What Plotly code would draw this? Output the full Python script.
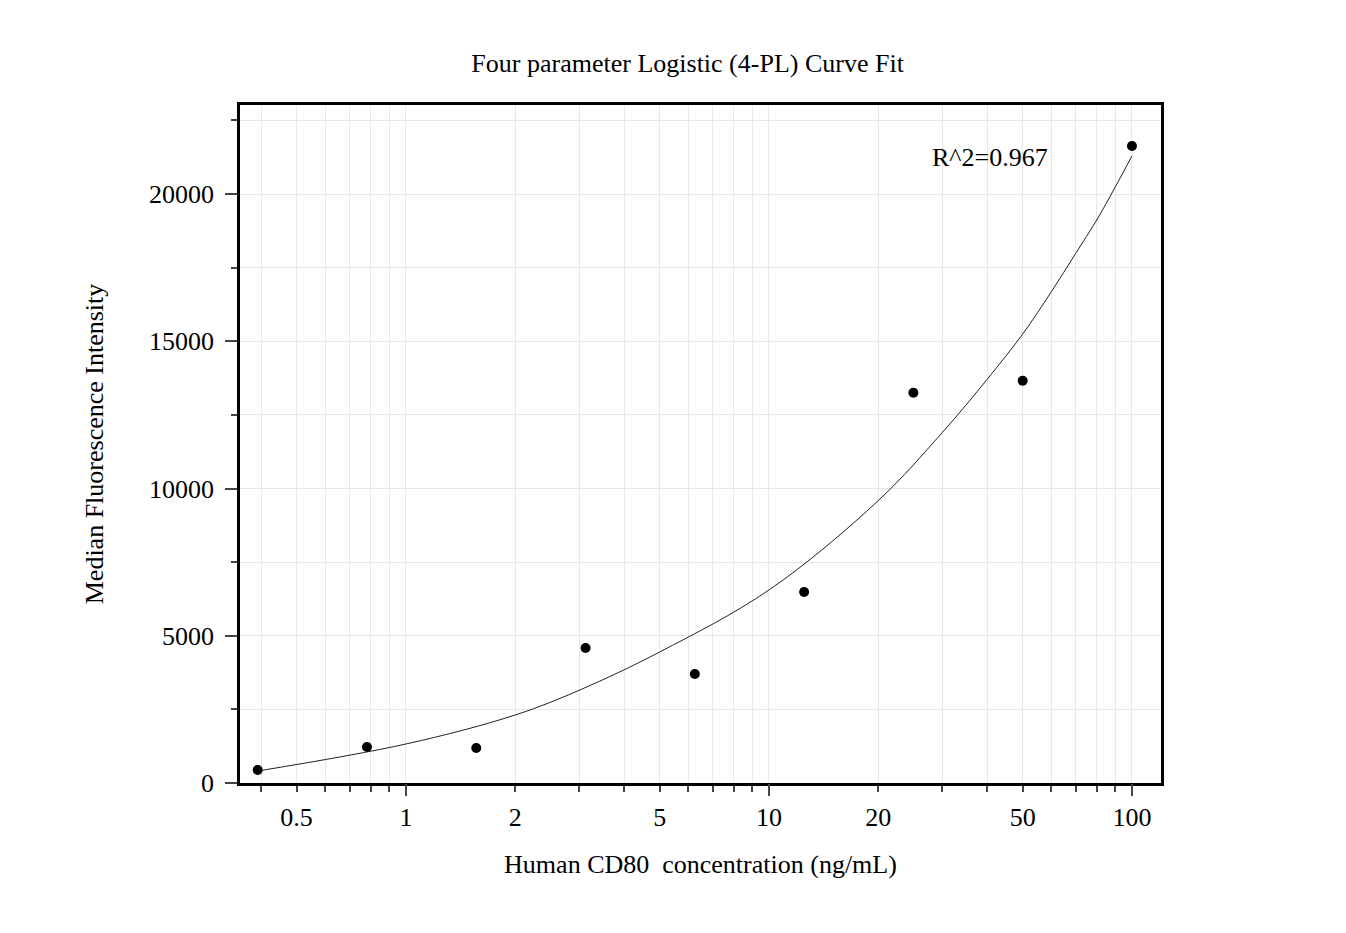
import plotly.graph_objects as go

# measured standards (ng/mL) and median fluorescence intensity
conc = [0.390625, 0.78125, 1.5625, 3.125, 6.25, 12.5, 25, 50, 100]
mfi = [441, 1222, 1188, 4584, 3701, 6486, 13250, 13660, 21630]

# fitted 4-PL curve
fit_x = [0.390625, 1, 2, 3, 5, 10, 20, 30, 40, 50, 60, 70, 80, 90, 100]
fit_y = [407, 1324, 2309, 3148, 4448, 6553, 9587, 11894, 13720, 15246, 16684, 17986, 19117, 20245, 21290]

grid_vals = [0.4, 0.5, 0.6, 0.7, 0.8, 0.9,
             1, 2, 3, 4, 5, 6, 7, 8, 9,
             10, 20, 30, 40, 50, 60, 70, 80, 90, 100]
labeled = {0.5: "0.5", 1: "1", 2: "2", 5: "5", 10: "10", 20: "20", 50: "50", 100: "100"}
grid_text = [labeled.get(v, "") for v in grid_vals]
decades = [1, 10, 100]

y_ticks = [0, 5000, 10000, 15000, 20000]
y_text = ["0", "5000", "10000", "15000", "20000"]

FONT = "Liberation Serif, Times New Roman, serif"

fig = go.Figure()

fig.add_trace(go.Scatter(x=fit_x, y=fit_y, mode="lines", line=dict(color="#222", width=1, shape="spline"),
                         hoverinfo="skip", showlegend=False))
fig.add_trace(go.Scatter(x=conc, y=mfi, mode="markers", marker=dict(color="black", size=10),
                         showlegend=False))

# page body has an 8px margin, so the figure is a bit smaller than the window
fig.update_layout(
    width=1330, height=917,
    margin=dict(l=232, r=177, t=97, b=142),
    plot_bgcolor="white", paper_bgcolor="white",
    font=dict(family=FONT, color="black", size=26),
    title=dict(text="Four parameter Logistic (4-PL) Curve Fit", xref="container", yref="container",
               x=0.511, y=0.940, xanchor="center", yanchor="middle", font=dict(size=26)),
    xaxis=dict(type="log", range=[-0.457, 2.080],
               tickvals=grid_vals, ticktext=grid_text, ticks="outside", ticklen=6, tickwidth=2,
               tickfont=dict(size=26),
               showgrid=True, gridcolor="#e8e8e8", gridwidth=1,
               showline=True, linecolor="black", linewidth=2.5, mirror=True,
               ticklabelstandoff=3, zeroline=False,
               title=dict(text="Human CD80\u00a0 concentration (ng/mL)", standoff=24, font=dict(size=26))),
    xaxis2=dict(type="log", overlaying="x", matches="x", side="bottom", anchor="y",
                tickvals=decades, ticks="outside", ticklen=12, tickwidth=2, showticklabels=False,
                showgrid=False, showline=False, zeroline=False),
    yaxis=dict(range=[0, 23022], tickvals=y_ticks, ticktext=y_text,
               ticks="outside", ticklen=12, tickwidth=2, tickfont=dict(size=26),
               ticklabelstandoff=6,
               minor=dict(dtick=2500, ticklen=6, tickwidth=2, ticks="outside",
                          showgrid=True, gridcolor="#e8e8e8"),
               showgrid=True, gridcolor="#e8e8e8", gridwidth=1,
               showline=True, linecolor="black", linewidth=2.5, mirror=True,
               zeroline=False,
               title=dict(text="Median Fluorescence Intensity", standoff=38, font=dict(size=26))),
)

# dummy trace so the decade tick axis is drawn
fig.add_trace(go.Scatter(x=[1], y=[None], xaxis="x2", showlegend=False, hoverinfo="skip"))

fig.add_annotation(text="R^2=0.967", xref="paper", yref="paper", x=0.814, y=0.923,
                   xanchor="center", yanchor="middle", showarrow=False, font=dict(size=26))

fig.write_html("out.html")
